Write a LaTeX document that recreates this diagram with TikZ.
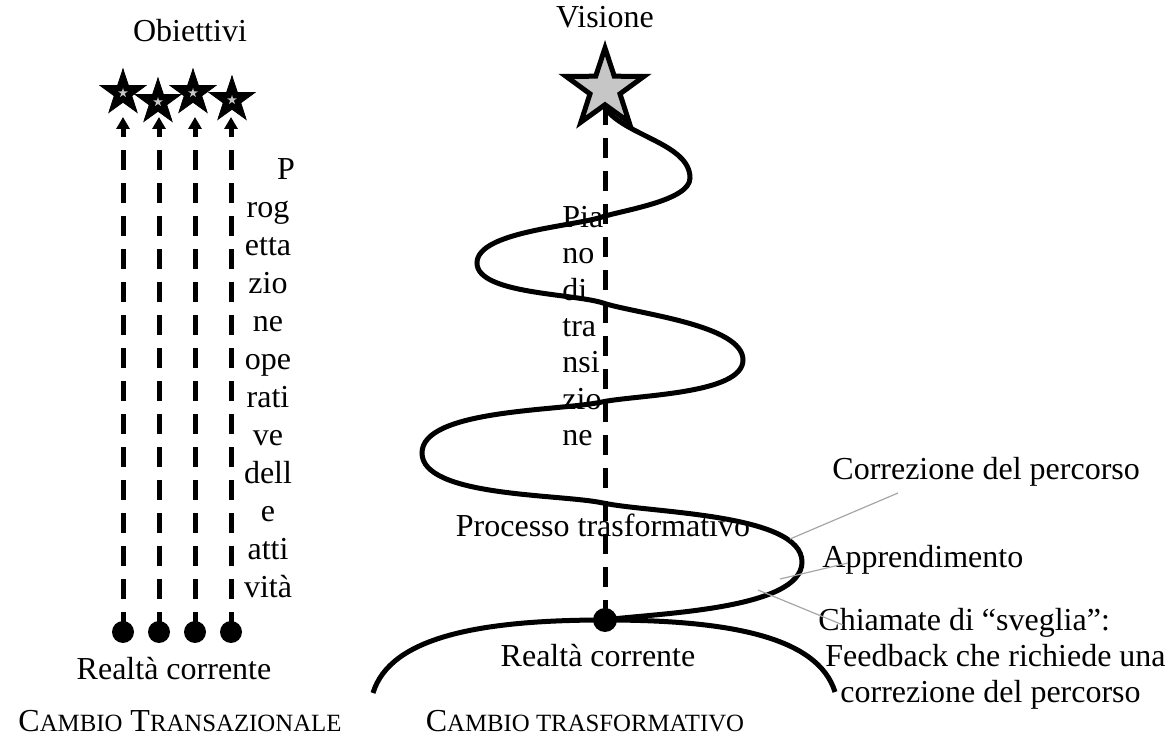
\documentclass[tikz,border=0pt]{standalone}
\usepackage{fontspec}
\setmainfont{Liberation Serif}
\usetikzlibrary{arrows.meta,shapes.geometric}

\newcommand\minicap[1]{{\fontsize{12.4}{14}\selectfont #1}}

\begin{document}
\begin{tikzpicture}[x=0.5pt,y=0.5pt,
		every node/.style={font=\fontsize{16}{18}\selectfont,inner sep=0pt},
		goal/.style={star,star points=5,star point ratio=2.6,minimum size=24pt,fill=black,draw=black},
		spark/.style={star,star points=5,star point ratio=2.6,minimum size=5pt,fill=gray!45},
		dot/.style={circle,fill=black,minimum size=11pt},
		track/.style={line width=2.5pt,dash pattern=on 10pt off 6.5pt},
		coil/.style={line width=2.5pt},
		leader/.style={gray!70,line width=0.6pt}]
	\useasboundingbox (0,0) rectangle (1173,749);

	% --- cambio transazionale
	\node(obj) at (190,707)[anchor=base]{Obiettivi};

	\node(g1) at (123,656)[goal]{};
	\node(g3) at (193,656)[goal]{};
	\node(g2) at (158,647)[goal]{};
	\node(g4) at (232,649)[goal]{};
	\node at (g1)[spark]{};
	\node at (g2)[spark]{};
	\node at (g3)[spark]{};
	\node at (g4)[spark]{};

	\node(d1) at (123,117)[dot]{};
	\node(d2) at (159,117)[dot]{};
	\node(d3) at (195,117)[dot]{};
	\node(d4) at (231,117)[dot]{};

	\coordinate(t1) at (123,632);
	\coordinate(t2) at (159,632);
	\coordinate(t3) at (195,632);
	\coordinate(t4) at (231,632);

	\draw[track,-{Triangle[length=6pt,width=6.5pt]}] (d1.center) to (t1);
	\draw[track,-{Triangle[length=6pt,width=6.5pt]}] (d2.center) to (t2);
	\draw[track,-{Triangle[length=6pt,width=6.5pt]}] (d3.center) to (t3);
	\draw[track,-{Triangle[length=6pt,width=6.5pt]}] (d4.center) to (t4);

	\node(plan) at (268,591)[anchor=north,align=center,font=\fontsize{16}{19}\selectfont]
		{\hspace*{18pt}P\\rog\\etta\\zio\\ne\\ope\\rati\\ve\\dell\\e\\atti\\vità};

	\node(realL) at (174,69)[anchor=base]{Realtà corrente};
	\node(typeL) at (180,17)[anchor=base]{C\minicap{AMBIO} T\minicap{RANSAZIONALE}};

	% --- cambio trasformativo
	\node(vis) at (605,721)[anchor=base]{Visione};
	\node(rdot) at (605,129)[dot,minimum size=12pt]{};
	\node(vstar) at (605,660)[star,star points=5,star point ratio=2.6,minimum size=41pt,
		fill=gray!45,draw=black,line width=2.5pt]{};

	\draw[track] (rdot.center) to (vstar);

	\coordinate(archL) at (373,56);
	\coordinate(archR) at (835,57);
	\draw[coil] (archL) .. controls (390,112) and (480,129) .. (rdot.center)
		.. controls (730,129) and (818,112) .. (archR);

	\draw[coil] (vstar.south) to[out=-55,in=90,looseness=0.8] (690,571)
		to[out=-90,in=18,looseness=0.6] (602,532) to[out=198,in=90,looseness=0.6] (477,486)
		to[out=-90,in=162,looseness=0.6] (603,446) to[out=-18,in=90,looseness=0.6] (743,389)
		to[out=-90,in=12,looseness=0.6] (602,347) to[out=192,in=90,looseness=0.6] (422,296)
		to[out=-90,in=168,looseness=0.6] (603,246) to[out=-12,in=90,looseness=0.6] (802,187)
		to[out=-90,in=8,looseness=0.6] (rdot.center);

	\node(path) at (562,543)[anchor=north west,align=left,font=\fontsize{16}{18.15}\selectfont]
		{Pia\\no\\di\\tra\\nsi\\zio\\ne};

	\node(proc) at (603,212)[anchor=base]{Processo trasformativo};
	\node(realR) at (598,82)[anchor=base]{Realtà corrente};
	\node(typeR) at (585,17)[anchor=base]{C\minicap{AMBIO TRASFORMATIVO}};

	\node(corr) at (832,269)[anchor=base west]{Correzione del percorso};
	\node(learn) at (822,181)[anchor=base west]{Apprendimento};
	\node(wake) at (818,141)[anchor=north west,align=left]
		{Chiamate di “sveglia”:\\\hspace*{3.5pt}Feedback che richiede una\\\hspace*{11pt}correzione del percorso};

	\coordinate(corrA) at (790,210);
	\coordinate(corrB) at (898,256);
	\coordinate(learnA) at (780,170);
	\coordinate(learnB) at (848,186);
	\coordinate(wakeA) at (758,159);
	\coordinate(wakeB) at (843,124);
	\draw[leader] (corrA) to (corrB);
	\draw[leader] (learnA) to (learnB);
	\draw[leader] (wakeA) to (wakeB);
\end{tikzpicture}
\end{document}
